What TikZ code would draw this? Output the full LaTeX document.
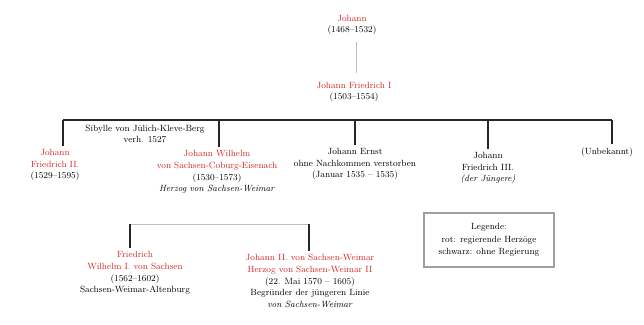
\documentclass[tikz,border=0pt]{standalone}
\usepackage{fontspec}
\definecolor{mred}{RGB}{214,38,38}
\definecolor{lgray}{RGB}{190,190,190}
\begin{document}
\begin{tikzpicture}[x=1pt,y=-1pt,
  every node/.style={font=\fontsize{9}{11.8}\selectfont, align=center, inner sep=3pt},
  person/.style={},
  bus/.style={line width=1.6pt, black!85},
  drop/.style={line width=1.2pt, black!85},
  thinline/.style={line width=0.6pt, lgray},
  legendbox/.style={draw=gray!75, line width=1.6pt, minimum width=130pt, minimum height=54pt}]
\useasboundingbox (0,0) rectangle (644,324);

% generations 1 and 2
\node[person] (top) at (352,25) {\textcolor{mred}{Johann}\\(1468--1532)};
\node[person] (jf) at (354,92) {\textcolor{mred}{Johann Friedrich I}\\(1503--1554)};
\draw[thinline, shorten <=4pt, shorten >=6pt] (top.south -| 356,0) -- (jf.north -| 356,0);

% bus
\coordinate (b1) at (63,120);
\coordinate (b2) at (219,120);
\coordinate (b3) at (355,120);
\coordinate (b4) at (488,120);
\coordinate (b5) at (612,120);
\draw[bus] (b1) -- (b5);

\node (sp) at (145,134) {Sibylle von Jülich-Kleve-Berg\\verh. 1527};

% children
\node[person] (c1) at (55,165) {\textcolor{mred}{Johann}\\\textcolor{mred}{Friedrich II.}\\(1529--1595)};
\node[person] (c2) at (217,172) {\textcolor{mred}{Johann Wilhelm}\\\textcolor{mred}{von Sachsen-Coburg-Eisenach}\\(1530--1573)\\\textit{Herzog von Sachsen-Weimar}};
\node[person] (c3) at (355,164) {Johann Ernst\\ohne Nachkommen verstorben\\(Januar 1535 -- 1535)};
\node[person] (c4) at (488,168) {Johann\\Friedrich III.\\\textit{(der Jüngere)}};
\node[person, anchor=west] (c5) at (578,152) {(Unbekannt)};

\draw[drop] (b1) -- (b1 |- c1.north);
\draw[drop] (b2) -- (b2 |- c2.north);
\draw[drop] (b3) -- (b3 |- c3.north);
\draw[drop] (b4) -- (b4 |- c4.north);
\draw[drop] (b5) -- (b5 |- c5.north);

% grandchildren
\coordinate (g1) at (130,224);
\coordinate (g2) at (309,224);
\draw[thinline] (g1) -- (g2);
\node[person] (gc1) at (135,273) {\textcolor{mred}{Friedrich}\\\textcolor{mred}{Wilhelm I. von Sachsen}\\(1562--1602)\\Sachsen-Weimar-Altenburg};
\node[person] (gc2) at (310,281) {\textcolor{mred}{Johann II. von Sachsen-Weimar}\\\textcolor{mred}{Herzog von Sachsen-Weimar II}\\(22. Mai 1570 -- 1605)\\Begründer der jüngeren Linie\\\textit{von Sachsen-Weimar}};
\draw[drop] (g1) -- (g1 |- gc1.north);
\draw[drop] (g2) -- (g2 |- gc2.north);

% legend
\node[legendbox] (leg) at (489,240) {Legende:\\[1pt]rot: regierende Herzöge\\schwarz: ohne Regierung};
\end{tikzpicture}
\end{document}
